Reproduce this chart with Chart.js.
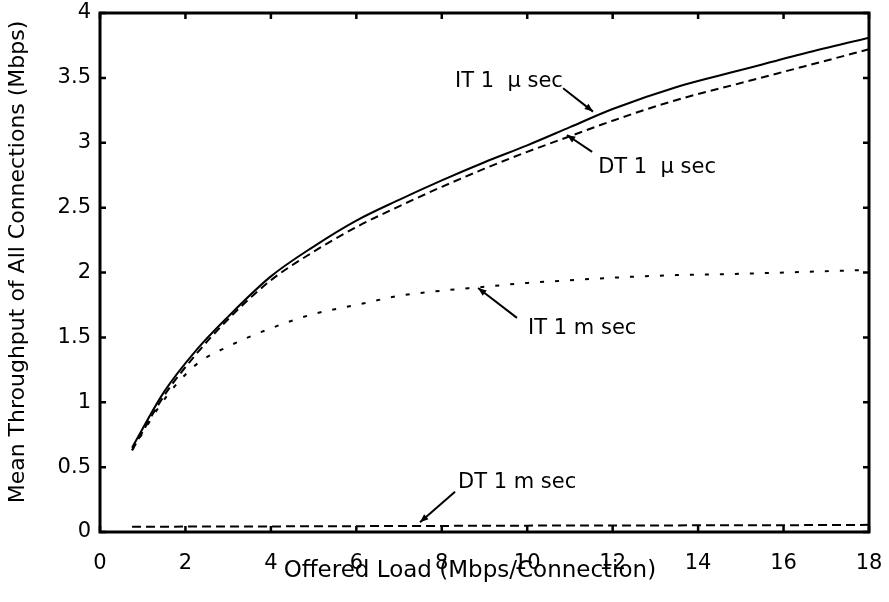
<!DOCTYPE html>
<html>
<head>
<meta charset="utf-8">
<script src="https://cdn.jsdelivr.net/npm/chart.js@4/dist/chart.umd.min.js"></script>
<style>
    body { margin: 0; background: #fff; }
    #wrap { width: 889px; height: 602px; }
</style>
</head>
<body>
<div id="wrap"><canvas id="chart" width="889" height="602"></canvas></div>
<script>
// offered load (Mbps/connection)
const offeredLoad = [0.75, 1.5, 2.25, 3, 4, 5, 6, 7, 8, 9, 10, 11, 12, 13.5, 15, 16.5, 18];

// mean throughput of all connections (Mbps)
const it1usec = [0.65, 1.08, 1.40, 1.66, 1.97, 2.20, 2.40, 2.56, 2.71, 2.85, 2.98, 3.12, 3.26, 3.43, 3.56, 3.69, 3.81];
const dt1usec = [0.63, 1.05, 1.37, 1.64, 1.94, 2.16, 2.35, 2.51, 2.66, 2.80, 2.93, 3.05, 3.17, 3.33, 3.46, 3.59, 3.72];
const it1msec = [0.63, 1.02, 1.29, 1.43, 1.57, 1.68, 1.75, 1.82, 1.86, 1.89, 1.92, 1.94, 1.96, 1.98, 1.99, 2.005, 2.02];
const dt1msec = [0.040, 0.041, 0.042, 0.042, 0.043, 0.044, 0.045, 0.046, 0.047, 0.048, 0.049, 0.050, 0.050, 0.051, 0.052, 0.053, 0.055];

const xTicks = [0, 2, 4, 6, 8, 10, 12, 14, 16, 18];
const yTicks = [0, 0.5, 1, 1.5, 2, 2.5, 3, 3.5, 4];

// curve labels: text anchor and arrow, in data units
const labels = [
    { text: "IT 1  \u00b5 sec", at: [8.31, 3.47], from: [10.84, 3.42], to: [11.54, 3.24] },
    { text: "DT 1  \u00b5 sec", at: [11.66, 2.81], from: [11.52, 2.93], to: [10.93, 3.06] },
    { text: "IT 1 m sec", at: [10.02, 1.57], from: [9.76, 1.65], to: [8.85, 1.88] },
    { text: "DT 1 m sec", at: [8.38, 0.38], from: [8.31, 0.31], to: [7.49, 0.075] }
];

const FONT = "'DejaVu Sans', sans-serif";

function toPoints(ys) {
    return offeredLoad.map((x, i) => ({ x: x, y: ys[i] }));
}

function series(label, ys, dash) {
    return {
        label: label,
        data: toPoints(ys),
        borderColor: "#000",
        borderWidth: 2,
        borderDash: dash,
        pointRadius: 0,
        fill: false,
        cubicInterpolationMode: "monotone"
    };
}

// heavy box with inward ticks on all four sides
const framePlugin = {
    id: "frame",
    afterDatasetsDraw(chart) {
        const { ctx, chartArea: a, scales } = chart;
        ctx.save();
        ctx.strokeStyle = "#000";
        ctx.lineWidth = 2.5;
        const len = 6;
        xTicks.forEach(v => {
            const px = scales.x.getPixelForValue(v);
            ctx.beginPath();
            ctx.moveTo(px, a.bottom); ctx.lineTo(px, a.bottom - len);
            ctx.moveTo(px, a.top); ctx.lineTo(px, a.top + len);
            ctx.stroke();
        });
        yTicks.forEach(v => {
            const py = scales.y.getPixelForValue(v);
            ctx.beginPath();
            ctx.moveTo(a.left, py); ctx.lineTo(a.left + len, py);
            ctx.moveTo(a.right, py); ctx.lineTo(a.right - len, py);
            ctx.stroke();
        });
        ctx.lineWidth = 3;
        ctx.strokeRect(a.left, a.top, a.right - a.left, a.bottom - a.top);
        ctx.restore();
    }
};

const labelPlugin = {
    id: "curveLabels",
    afterDatasetsDraw(chart) {
        const { ctx, scales } = chart;
        ctx.save();
        ctx.fillStyle = "#000";
        ctx.strokeStyle = "#000";
        ctx.font = "21px " + FONT;
        ctx.textAlign = "left";
        ctx.textBaseline = "middle";
        labels.forEach(l => {
            ctx.fillText(l.text, scales.x.getPixelForValue(l.at[0]), scales.y.getPixelForValue(l.at[1]));
            const x1 = scales.x.getPixelForValue(l.from[0]), y1 = scales.y.getPixelForValue(l.from[1]);
            const x2 = scales.x.getPixelForValue(l.to[0]), y2 = scales.y.getPixelForValue(l.to[1]);
            ctx.lineWidth = 2;
            ctx.beginPath();
            ctx.moveTo(x1, y1);
            ctx.lineTo(x2, y2);
            ctx.stroke();
            const ang = Math.atan2(y2 - y1, x2 - x1);
            const h = 9, w = 0.38;
            ctx.beginPath();
            ctx.moveTo(x2, y2);
            ctx.lineTo(x2 - h * Math.cos(ang - w), y2 - h * Math.sin(ang - w));
            ctx.lineTo(x2 - h * Math.cos(ang + w), y2 - h * Math.sin(ang + w));
            ctx.closePath();
            ctx.fill();
        });
        ctx.restore();
    }
};

new Chart(document.getElementById("chart").getContext("2d"), {
    type: "line",
    data: {
        datasets: [
            series("IT 1 usec", it1usec, []),
            series("DT 1 usec", dt1usec, [8, 5]),
            series("IT 1 msec", it1msec, [4, 11]),
            series("DT 1 msec", dt1msec, [9, 5])
        ]
    },
    options: {
        responsive: false,
        animation: false,
        layout: { padding: { left: 0, top: 13, right: 20, bottom: 0 } },
        plugins: { legend: { display: false }, tooltip: { enabled: false } },
        scales: {
            x: {
                type: "linear",
                min: 0,
                max: 18,
                afterFit(scale) {
                    scale.height = 70;
                    scale.paddingLeft = 0;
                    scale.paddingRight = 0;
                },
                afterBuildTicks(scale) { scale.ticks = xTicks.map(v => ({ value: v })); },
                grid: { display: false, drawTicks: false },
                border: { display: false },
                ticks: { color: "#000", padding: 19, maxRotation: 0, font: { family: FONT, size: 21 } },
                title: {
                    display: true,
                    text: "Offered Load (Mbps/Connection)    ",
                    color: "#000",
                    padding: { top: 0, bottom: 17 },
                    font: { family: FONT, size: 23 }
                }
            },
            y: {
                min: 0,
                max: 4,
                afterFit(scale) {
                    scale.width = 100;
                    scale.paddingTop = 0;
                    scale.paddingBottom = 0;
                },
                afterBuildTicks(scale) { scale.ticks = yTicks.map(v => ({ value: v })); },
                grid: { display: false, drawTicks: false },
                border: { display: false },
                ticks: {
                    color: "#000",
                    padding: 9,
                    font: { family: FONT, size: 21 },
                    callback: v => String(v)
                },
                title: {
                    display: true,
                    text: "   Mean Throughput of All Connections (Mbps)",
                    color: "#000",
                    padding: { top: 5, bottom: 0 },
                    font: { family: FONT, size: 22 }
                }
            }
        }
    },
    plugins: [framePlugin, labelPlugin]
});
</script>
</body>
</html>
